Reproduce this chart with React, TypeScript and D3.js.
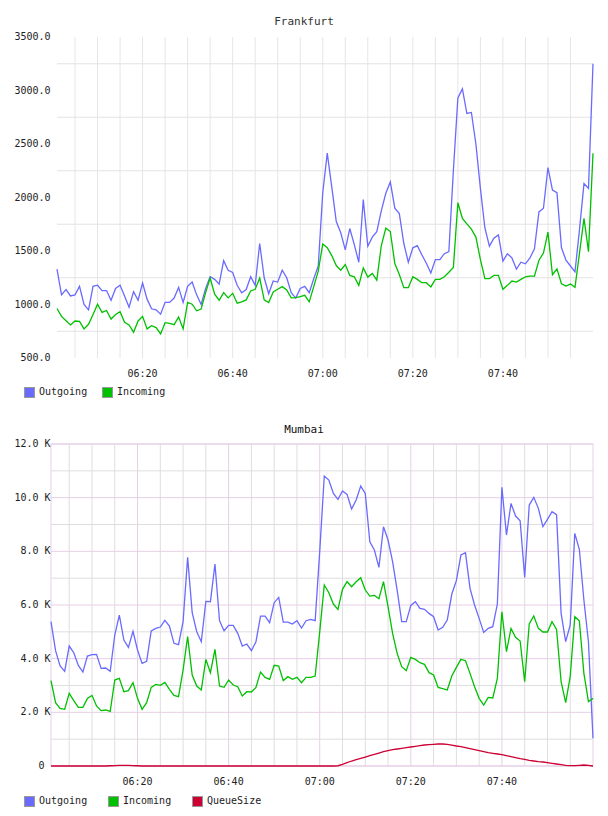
import React from 'react';
import * as d3 from 'd3';

// one sample per minute, 06:01 .. 08:00
const startTime = new Date(2013, 4, 21, 6, 1);
const times: Date[] = d3.range(120).map(i => d3.timeMinute.offset(startTime, i));

const frankfurtOutgoing = [
  1330, 1090, 1140, 1080, 1090, 1170, 1000, 950, 1170, 1180,
  1130, 1130, 1040, 1150, 1180, 1080, 975, 1120, 1040, 1200,
  1050, 960, 950, 910, 1020, 1020, 1060, 1160, 1020, 1170,
  1210, 1090, 1000, 1150, 1260, 1235, 1190, 1410, 1320, 1300,
  1180, 1110, 1140, 1260, 1180, 1570, 1250, 1100, 1220, 1210,
  1320, 1250, 1110, 1060, 1150, 1170, 1110, 1240, 1360, 2045,
  2415, 2100, 1775, 1670, 1510, 1710, 1560, 1395, 1980, 1545,
  1630, 1680, 1875, 2040, 2145, 1900, 1850, 1570, 1395, 1530,
  1550, 1465, 1385, 1295, 1420, 1420, 1475, 1495, 2250, 2930,
  3015, 2785, 2795, 2500, 2085, 1715, 1545, 1620, 1650, 1405,
  1475, 1435, 1330, 1395, 1380, 1435, 1520, 1865, 1900, 2280,
  2070, 2045, 1530, 1415, 1360, 1305, 1700, 2130, 2085, 3250,
];

const frankfurtIncoming = [
  963, 889, 849, 809, 846, 843, 772, 815, 907, 1003,
  926, 944, 864, 907, 932, 833, 809, 741, 846, 889,
  772, 802, 784, 725, 830, 824, 812, 883, 772, 1019,
  1003, 941, 957, 1111, 1247, 1096, 1040, 1111, 1062, 1105,
  1012, 1025, 1043, 1127, 1142, 1247, 1043, 1019, 1117, 1142,
  1167, 1136, 1062, 1065, 1074, 1086, 1025, 1167, 1312, 1565,
  1530, 1457, 1364, 1321, 1373, 1272, 1259, 1179, 1343, 1256,
  1290, 1228, 1549, 1713, 1682, 1383, 1281, 1157, 1157, 1259,
  1235, 1204, 1204, 1164, 1235, 1235, 1259, 1302, 1346, 1951,
  1805, 1753, 1704, 1630, 1420, 1241, 1241, 1272, 1272, 1142,
  1179, 1219, 1210, 1235, 1259, 1265, 1265, 1414, 1481, 1676,
  1278, 1333, 1194, 1173, 1191, 1160, 1480, 1805, 1494, 2413,
];

const mumbaiOutgoing = [
  5378, 4297, 3726, 3527, 4471, 4223, 3751, 3502, 4099, 4148,
  4161, 3639, 3651, 3527, 4881, 5626, 4695, 4422, 5018, 4322,
  3825, 3900, 5030, 5129, 5179, 5428, 5216, 4571, 4521, 5378,
  7775, 5713, 5005, 4633, 6135, 6123, 7527, 5415, 5043, 5241,
  5241, 4943, 4471, 4546, 4297, 4633, 5589, 5589, 5341, 6086,
  6285, 5365, 5365, 5291, 5415, 5142, 5415, 5465, 5415, 8000,
  10805, 10656, 10160, 9936, 10247, 10122, 9576, 9911, 10433, 10160,
  8359, 8048, 7402, 8918, 8421, 7613, 6558, 5378, 5378, 5986,
  6123, 5875, 5837, 5688, 5564, 5067, 5167, 5440, 6409, 6906,
  7862, 7949, 6620, 5999, 5502, 4980, 5129, 5192, 6036, 10383,
  8607, 9787, 9315, 9141, 7030, 9725, 10011, 9601, 8918, 9191,
  9477, 9365, 5688, 4633, 5254, 8669, 8073, 6185, 4633, 1031,
];

const mumbaiIncoming = [
  3180, 2360, 2149, 2111, 2708, 2434, 2186, 2186, 2521, 2633,
  2236, 2062, 2087, 2037, 3204, 3266, 2770, 2807, 3105, 2521,
  2111, 2360, 2931, 3043, 3006, 3117, 2857, 2633, 2583, 3577,
  4819, 3391, 2981, 2832, 3974, 3478, 4347, 2981, 2931, 3204,
  3018, 2956, 2608, 2770, 2757, 2931, 3502, 3304, 3229, 3751,
  3726, 3180, 3329, 3229, 3304, 3105, 3304, 3304, 3354, 5000,
  6744, 6458, 6036, 5837, 6583, 6868, 6682, 6868, 7017, 6558,
  6334, 6359, 6235, 6868, 5937, 4943, 4198, 3701, 3552, 4049,
  3974, 3850, 3788, 3478, 3391, 2931, 2881, 2832, 3354, 3676,
  3974, 3925, 3453, 2956, 2521, 2273, 2559, 2534, 3266, 5750,
  4260, 5129, 4794, 4658, 3142, 5291, 5589, 5129, 4993, 4993,
  5378, 5092, 3142, 2360, 3329, 5564, 5415, 3453, 2397, 2521,
];

const mumbaiQueue = [
  0, 0, 0, 0, 0, 0, 0, 0, 0, 0,
  0, 0, 0, 10, 15, 20, 20, 20, 15, 10,
  0, 0, 0, 0, 0, 0, 0, 0, 0, 0,
  0, 0, 0, 0, 0, 0, 0, 0, 0, 0,
  0, 0, 0, 0, 0, 0, 0, 0, 0, 0,
  0, 0, 0, 0, 0, 0, 0, 0, 0, 0,
  0, 0, 0, 10, 62, 124, 186, 236, 286, 335,
  385, 435, 484, 534, 571, 609, 633, 658, 683, 708,
  733, 758, 782, 795, 807, 820, 820, 807, 782, 745,
  720, 683, 646, 609, 571, 534, 497, 472, 447, 422,
  385, 348, 310, 273, 248, 211, 186, 161, 149, 124,
  99, 75, 50, 25, 12, 12, 25, 37, 25, 0,
];

const frankfurtYTicks = [500, 1000, 1500, 2000, 2500, 3000, 3500];
const frankfurtYGrid = [750, 1250, 1750, 2250, 2750, 3250];
const mumbaiYTicks = [0, 2000, 4000, 6000, 8000, 10000, 12000];
const mumbaiYGrid = [1000, 3000, 5000, 7000, 9000, 11000];

const COLORS = { out: '#6a6aff', in: '#00c000', queue: '#cc0033' };
const MONO = '"DejaVu Sans Mono", monospace';
const PINK = '#e6cfe6';

type Series = { name: string; color: string; values: number[] };

const Legend = ({ x, y, items, step }: { x: number; y: number; items: Series[]; step: number }) => (
  <g>
    {items.map((s, i) => (
      <g key={s.name} transform={`translate(${x + i * step},${y})`}>
        <rect x={0.5} y={-4.5} width={10} height={10} fill={s.color} stroke="#999" />
        <text x={15} y={0} dominantBaseline="middle" fontFamily={MONO} fontSize={10} fill="#222">
          {s.name}
        </text>
      </g>
    ))}
  </g>
);

const TrafficChart = ({
  title, titleY, titleColor, left, right, top, bottom, yDomain, yTicks, yGrid, yFormat,
  framed, series, legendY, legendStep,
}: any) => {
  const x = d3.scaleTime().domain([times[0], times[times.length - 1]]).range([left, right]);
  const y = d3.scaleLinear().domain(yDomain).range([bottom, top]);
  const fiveMin = d3.timeMinute.every(5)!.range(times[0], times[times.length - 1]);
  const isMajor = (d: Date) => d.getMinutes() % 20 === 0;
  const line = d3.line<number>().x((_, i) => x(times[i])).y(d => y(d));
  const fmt = d3.timeFormat('%H:%M');

  return (
    <g>
      <text x={304} y={titleY} textAnchor="middle" fontFamily={MONO} fontSize={11} fill={titleColor}>
        {title}
      </text>

      {/* grid */}
      {fiveMin.map(d => (
        <line key={+d} x1={x(d)} x2={x(d)} y1={top} y2={bottom}
          stroke={framed ? (isMajor(d) ? PINK : '#dedede') : '#e6e6e6'} />
      ))}
      {yGrid.map((v: number) => (
        <line key={v} x1={left} x2={right} y1={y(v)} y2={y(v)} stroke={framed ? '#dedede' : '#e3e3e3'} />
      ))}
      {framed && yTicks.map((v: number) => (
        <line key={v} x1={left} x2={right} y1={y(v)} y2={y(v)} stroke={PINK} />
      ))}
      {framed && <rect x={left} y={top} width={right - left} height={bottom - top} fill="none" stroke={PINK} />}

      {/* lines */}
      {series.map((s: Series) => (
        <path key={s.name} d={line(s.values) || ''} fill="none" stroke={s.color} strokeWidth={1.3} />
      ))}

      {/* y labels */}
      {yTicks.map((v: number) => (
        <text key={v} x={50.5} y={y(v)} textAnchor="end" dominantBaseline="middle"
          fontFamily={MONO} fontSize={10} fill="#222" style={{ whiteSpace: 'pre' }}>
          {yFormat(v)}
        </text>
      ))}

      {/* x labels */}
      {fiveMin.filter(isMajor).map(d => (
        <text key={+d} x={x(d)} y={bottom + 15.5} textAnchor="middle" dominantBaseline="middle"
          fontFamily={MONO} fontSize={10} fill="#222">
          {fmt(d)}
        </text>
      ))}

      <Legend x={24} y={legendY} items={series} step={legendStep} />
    </g>
  );
};

export default function App() {
  return (
    <svg width={608} height={816} style={{ position: 'absolute', left: 0, top: 0, background: '#fff' }}>
      <TrafficChart
        title="Frankfurt" titleY={25} titleColor="#333"
        left={57} right={593} top={37} bottom={358}
        yDomain={[500, 3500]} yTicks={frankfurtYTicks} yGrid={frankfurtYGrid}
        yFormat={(v: number) => d3.format('.1f')(v)}
        framed={false}
        series={[
          { name: 'Outgoing', color: COLORS.out, values: frankfurtOutgoing },
          { name: 'Incoming', color: COLORS.in, values: frankfurtIncoming },
        ]}
        legendY={392} legendStep={78}
      />
      <TrafficChart
        title="Mumbai" titleY={433} titleColor="#111"
        left={51} right={593} top={444} bottom={766}
        yDomain={[0, 12000]} yTicks={mumbaiYTicks} yGrid={mumbaiYGrid}
        yFormat={(v: number) => (v === 0 ? '0 ' : `${(v / 1000).toFixed(1)} K`)}
        framed={true}
        series={[
          { name: 'Outgoing', color: COLORS.out, values: mumbaiOutgoing },
          { name: 'Incoming', color: COLORS.in, values: mumbaiIncoming },
          { name: 'QueueSize', color: COLORS.queue, values: mumbaiQueue },
        ]}
        legendY={801} legendStep={84}
      />
    </svg>
  );
}
